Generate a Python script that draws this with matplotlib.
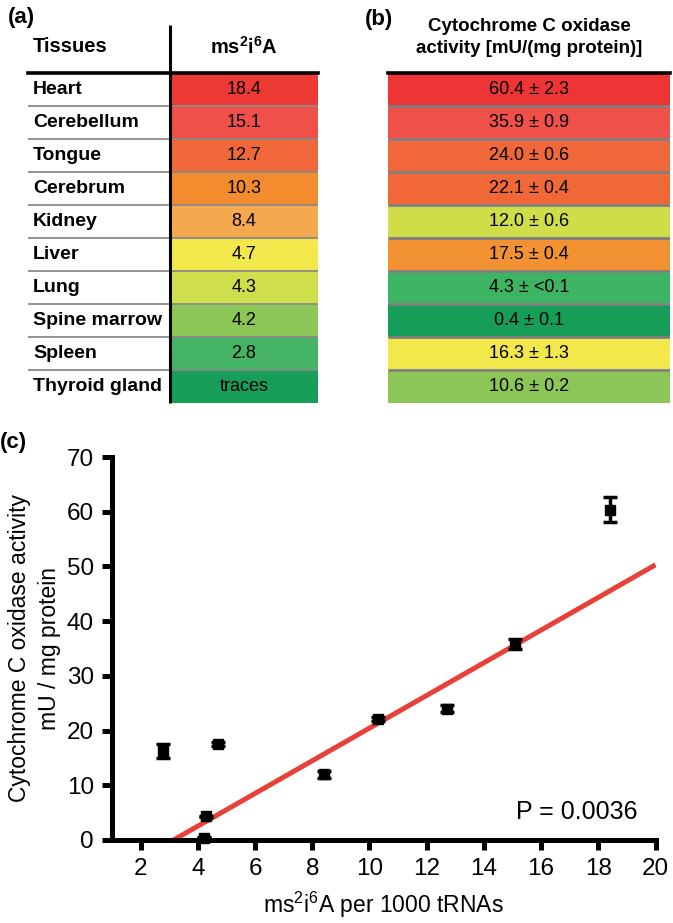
import numpy as np
import matplotlib
matplotlib.use("Agg")
import matplotlib.pyplot as plt

plt.rcParams['font.family'] = ['Liberation Sans', 'DejaVu Sans']
plt.rcParams['mathtext.fontset'] = 'custom'
plt.rcParams['mathtext.rm'] = 'Liberation Sans'
plt.rcParams['mathtext.it'] = 'Liberation Sans:italic'
plt.rcParams['mathtext.bf'] = 'Liberation Sans:bold'

# table (a)
tissues = ['Heart', 'Cerebellum', 'Tongue', 'Cerebrum', 'Kidney', 'Liver',
           'Lung', 'Spine marrow', 'Spleen', 'Thyroid gland']
ms2i6a_text = ['18.4', '15.1', '12.7', '10.3', '8.4', '4.7', '4.3', '4.2', '2.8', 'traces']
colors_a = ['#ee3a35', '#ef5049', '#f0673a', '#f38b2f', '#f6a84f', '#f2e84c',
            '#cfde4b', '#8cc656', '#45b464', '#179f5a']

# table (b)
cox_text = ['60.4 ± 2.3', '35.9 ± 0.9', '24.0 ± 0.6', '22.1 ± 0.4', '12.0 ± 0.6',
            '17.5 ± 0.4', '4.3 ± <0.1', '0.4 ± 0.1', '16.3 ± 1.3', '10.6 ± 0.2']
colors_b = ['#ee3535', '#ef5049', '#f0683a', '#f06838', '#cfde48', '#f39233',
            '#3db462', '#169e58', '#f2e84c', '#8cc656']

# plot (c), thyroid has only traces so it is not plotted
ms2i6a = [18.4, 15.1, 12.7, 10.3, 8.4, 4.7, 4.3, 4.2, 2.8]
cox = [60.4, 35.9, 24.0, 22.1, 12.0, 17.5, 4.3, 0.4, 16.3]
cox_sd = [2.3, 0.9, 0.6, 0.4, 0.6, 0.4, 0.1, 0.1, 1.3]
fit_slope = 2.985
fit_intercept = -9.40

W = 673.0
H = 923.0


def box(x0, y0, x1, y1):
    # pixel box -> figure fraction rect
    return [x0 / W, 1 - y1 / H, (x1 - x0) / W, (y1 - y0) / H]


def main():
    fig = plt.figure(figsize=(6.73, 9.23), dpi=100)

    n = len(tissues)
    rows = np.arange(n) + 0.5

    # ---- table (a)
    ta = fig.add_axes(box(28, 73, 318, 403))
    ta.set_xlim(0, 1)
    ta.set_ylim(n, 0)
    ta.axis('off')
    split = (170 - 28) / 290.0
    ta.barh(rows, 1 - split, left=split, height=1, color=colors_a)
    ta.hlines(np.arange(1, n), 0, 1, color='#8a8a8a', lw=1.3)
    ta.axhline(0, color='black', lw=2.6, clip_on=False)
    ta.vlines(split, -1.45, n, color='black', lw=2.2, clip_on=False)
    for i in range(n):
        ta.text(0.017, rows[i], tissues[i], fontsize=14, fontweight='bold',
                ha='left', va='center')
        ta.text((split + 1) / 2, rows[i], ms2i6a_text[i], fontsize=13,
                ha='center', va='center')
    ta.text(0.017, -0.8, 'Tissues', fontsize=14.5, fontweight='bold',
            ha='left', va='center', clip_on=False)
    ta.text((split + 1) / 2, -0.8, r'$\mathbf{ms^2i^6A}$', fontsize=14.5,
            ha='center', va='center', clip_on=False)

    # ---- table (b)
    tb = fig.add_axes(box(388, 73, 670, 403))
    tb.set_xlim(0, 1)
    tb.set_ylim(n, 0)
    tb.axis('off')
    tb.barh(rows, 1, height=1, color=colors_b)
    tb.hlines(np.arange(1, n), 0, 1, color='#808080', lw=2.0)
    tb.axhline(0, color='black', lw=2.6, clip_on=False)
    for i in range(n):
        tb.text(0.5, rows[i], cox_text[i], fontsize=13, ha='center', va='center')
    tb.text(0.5, -1.08, 'Cytochrome C oxidase\nactivity [mU/(mg protein)]',
            fontsize=13.5, fontweight='bold', ha='center', va='center',
            linespacing=1.35, clip_on=False)

    fig.text(8 / W, 1 - 18 / H, '(a)', fontsize=16, fontweight='bold', va='center')
    fig.text(365 / W, 1 - 20 / H, '(b)', fontsize=16, fontweight='bold', va='center')
    fig.text(0 / W, 1 - 443 / H, '(c)', fontsize=16, fontweight='bold', va='center')

    # ---- plot (c)
    ax = fig.add_axes(box(112, 457, 655.5, 840))
    x0 = -fit_intercept / fit_slope
    xf = np.array([x0, 20.0])
    ax.plot(xf, fit_slope * xf + fit_intercept, color='#e8413a', lw=3.6,
            solid_capstyle='butt', zorder=2)
    ax.errorbar(ms2i6a, cox, yerr=cox_sd, fmt='s', color='black', ms=7.5,
                ecolor='black', elinewidth=2.5, capsize=5, capthick=2.5,
                zorder=3, clip_on=False)
    ax.set_xlim(1, 20)
    ax.set_ylim(0, 70)
    ax.set_xticks(np.arange(2, 21, 2))
    ax.set_yticks(np.arange(0, 71, 10))
    for s in ['top', 'right']:
        ax.spines[s].set_visible(False)
    for s in ['left', 'bottom']:
        ax.spines[s].set_linewidth(3.6)
    ax.tick_params(direction='out', length=7, width=3.6, labelsize=17.5, pad=6)
    ax.text(0.967, 0.073, 'P = 0.0036', transform=ax.transAxes, fontsize=18,
            ha='right', va='center')
    fig.text(34.5 / W, 1 - 648 / H, 'Cytochrome C oxidase activity\nmU / mg protein',
             rotation=90, fontsize=16.5, ha='center', va='center', linespacing=1.4)
    fig.text(383 / W, 1 - 905 / H, r'ms$^2$i$^6$A per 1000 tRNAs', fontsize=16.5,
             ha='center', va='center')

    fig.savefig('out.png', dpi=100)


if __name__ == '__main__':
    main()
